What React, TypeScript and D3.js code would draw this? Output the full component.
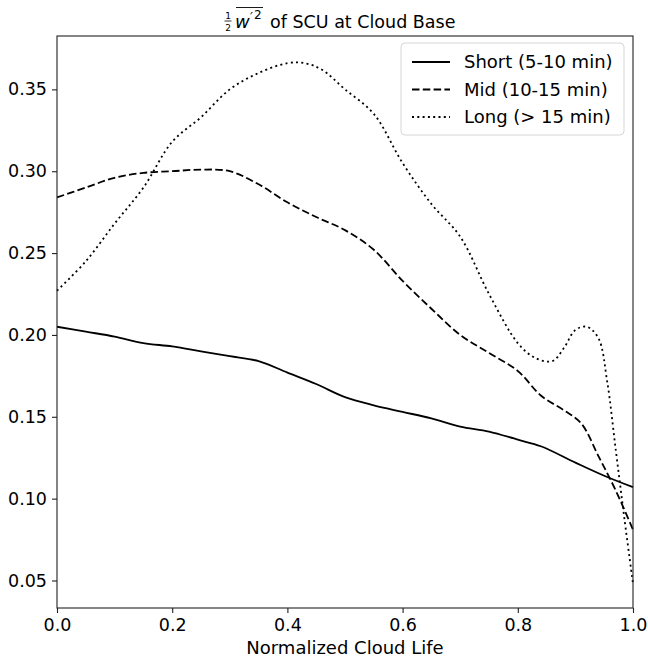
import {useEffect, useRef} from "react";
import * as d3 from "d3";

// normalized cloud life positions and 1/2 w'^2 values
const shortX = [0, 0.05, 0.1, 0.15, 0.2, 0.25, 0.3, 0.35, 0.4, 0.45, 0.5, 0.55, 0.6, 0.65, 0.7, 0.75, 0.8, 0.84, 0.9, 0.95, 1.0];
const shortY = [0.205, 0.202, 0.199, 0.195, 0.193, 0.190, 0.187, 0.184, 0.177, 0.170, 0.162, 0.157, 0.153, 0.149, 0.144, 0.141, 0.136, 0.132, 0.122, 0.114, 0.107];

const midX = [0, 0.05, 0.1, 0.15, 0.2, 0.25, 0.3, 0.35, 0.4, 0.45, 0.5, 0.55, 0.6, 0.65, 0.7, 0.75, 0.8, 0.84, 0.88, 0.91, 0.94, 0.97, 1.0];
const midY = [0.284, 0.290, 0.296, 0.299, 0.300, 0.301, 0.300, 0.292, 0.281, 0.272, 0.264, 0.252, 0.233, 0.216, 0.200, 0.189, 0.178, 0.163, 0.154, 0.146, 0.126, 0.105, 0.081];

const longX = [0, 0.05, 0.1, 0.15, 0.2, 0.25, 0.3, 0.35, 0.4, 0.43, 0.46, 0.5, 0.55, 0.6, 0.65, 0.7, 0.75, 0.8, 0.83, 0.86, 0.88, 0.9, 0.92, 0.94, 0.955, 0.97, 0.985, 1.0];
const longY = [0.227, 0.245, 0.268, 0.290, 0.318, 0.333, 0.350, 0.360, 0.366, 0.366, 0.362, 0.350, 0.335, 0.305, 0.280, 0.260, 0.225, 0.195, 0.186, 0.184, 0.192, 0.203, 0.205, 0.198, 0.172, 0.130, 0.088, 0.048];

const series = [
    {label: "Short (5-10 min)", xs: shortX, ys: shortY, dash: null},
    {label: "Mid (10-15 min)", xs: midX, ys: midY, dash: "7.5,3.3"},
    {label: "Long (> 15 min)", xs: longX, ys: longY, dash: "2,3.3"},
];

const xTicks = [0, 0.2, 0.4, 0.6, 0.8, 1.0];
const yTicks = [0.05, 0.10, 0.15, 0.20, 0.25, 0.30, 0.35];

export default function App() {
    const ref = useRef(null);

    useEffect(() => {
        const el = ref.current;
        if(!el) return;
        document.body.style.margin = "0";
        d3.select(el).selectAll("*").remove();

        const width = 648;
        const height = 660;
        const margin = {top: 36, right: 15, bottom: 52, left: 57};
        const font = "DejaVu Sans";

        const x = d3.scaleLinear().domain([0, 1]).range([margin.left, width - margin.right]);
        const y = d3.scaleLinear().domain([0.0332, 0.3826]).range([height - margin.bottom, margin.top]);

        const svg = d3
            .select(el)
            .append("svg")
            .attr("width", width)
            .attr("height", height)
            .style("display", "block");

        svg.append("rect").attr("width", width).attr("height", height).attr("fill", "#fff");

        // axes
        svg
            .append("g")
            .attr("transform", `translate(0, ${height - margin.bottom})`)
            .call(d3.axisBottom(x).tickValues(xTicks).tickFormat(d3.format(".1f")).tickSize(5).tickPadding(6))
            .call((g) => g.select(".domain").remove())
            .call((g) => g.selectAll("line").attr("stroke", "#222").attr("stroke-width", 1.1))
            .call((g) =>
                g.selectAll("text").attr("fill", "#000").attr("font-size", 17.5).attr("font-family", font)
            );

        svg
            .append("g")
            .attr("transform", `translate(${margin.left}, 0)`)
            .call(d3.axisLeft(y).tickValues(yTicks).tickFormat(d3.format(".2f")).tickSize(5).tickPadding(5))
            .call((g) => g.select(".domain").remove())
            .call((g) => g.selectAll("line").attr("stroke", "#222").attr("stroke-width", 1.1))
            .call((g) =>
                g.selectAll("text").attr("fill", "#000").attr("font-size", 17.5).attr("font-family", font)
            );

        // lines
        series.forEach((s) => {
            const pts = s.xs.map((v, i) => [x(v), y(s.ys[i])] as [number, number]);
            const path = d3.line().curve(d3.curveCatmullRom.alpha(0.5))(pts);
            svg
                .append("path")
                .attr("d", path)
                .attr("fill", "none")
                .attr("stroke", "#000")
                .attr("stroke-width", 1.8)
                .attr("stroke-dasharray", s.dash);
        });

        // frame
        svg
            .append("rect")
            .attr("x", margin.left)
            .attr("y", margin.top)
            .attr("width", width - margin.left - margin.right)
            .attr("height", height - margin.top - margin.bottom)
            .attr("fill", "none")
            .attr("stroke", "#222")
            .attr("stroke-width", 1.1);

        // legend
        const lg = svg.append("g").attr("transform", "translate(401, 43)");
        lg.append("rect")
            .attr("width", 223)
            .attr("height", 92)
            .attr("rx", 4)
            .attr("fill", "#fff")
            .attr("fill-opacity", 0.8)
            .attr("stroke", "#d6d6d6");
        series.forEach((s, i) => {
            const cy = 19 + i * 27.5;
            lg.append("line")
                .attr("x1", 11)
                .attr("x2", 49)
                .attr("y1", cy)
                .attr("y2", cy)
                .attr("stroke", "#000")
                .attr("stroke-width", 1.8)
                .attr("stroke-dasharray", s.dash);
            lg.append("text")
                .attr("x", 63)
                .attr("y", cy)
                .attr("dy", "0.36em")
                .attr("font-size", 18)
                .attr("font-family", font)
                .text(s.label);
        });

        // x label
        svg
            .append("text")
            .attr("x", (margin.left + width - margin.right) / 2)
            .attr("y", 654)
            .attr("text-anchor", "middle")
            .attr("font-size", 18)
            .attr("font-family", font)
            .text("Normalized Cloud Life");

        // title: 1/2 overline(w'^2) of SCU at Cloud Base
        const t = svg.append("g").attr("font-family", font);
        const fx = 228;
        t.append("text").attr("x", fx).attr("y", 19).attr("text-anchor", "middle").attr("font-size", 9).text("1");
        t.append("line")
            .attr("x1", fx - 3.5)
            .attr("x2", fx + 3.5)
            .attr("y1", 21)
            .attr("y2", 21)
            .attr("stroke", "#000")
            .attr("stroke-width", 0.8);
        t.append("text").attr("x", fx).attr("y", 31).attr("text-anchor", "middle").attr("font-size", 9).text("2");
        t.append("text").attr("x", 235).attr("y", 28).attr("font-size", 18).attr("font-style", "italic").text("w");
        t.append("text").attr("x", 250).attr("y", 21).attr("font-size", 13).attr("font-style", "italic").text("′");
        t.append("text").attr("x", 254).attr("y", 19).attr("font-size", 12).text("2");
        t.append("line")
            .attr("x1", 236)
            .attr("x2", 263)
            .attr("y1", 7.5)
            .attr("y2", 7.5)
            .attr("stroke", "#000")
            .attr("stroke-width", 0.9);
        t.append("text").attr("x", 270).attr("y", 28).attr("font-size", 17.5).text("of SCU at Cloud Base");
    }, []);

    return <div ref={ref} />;
}
